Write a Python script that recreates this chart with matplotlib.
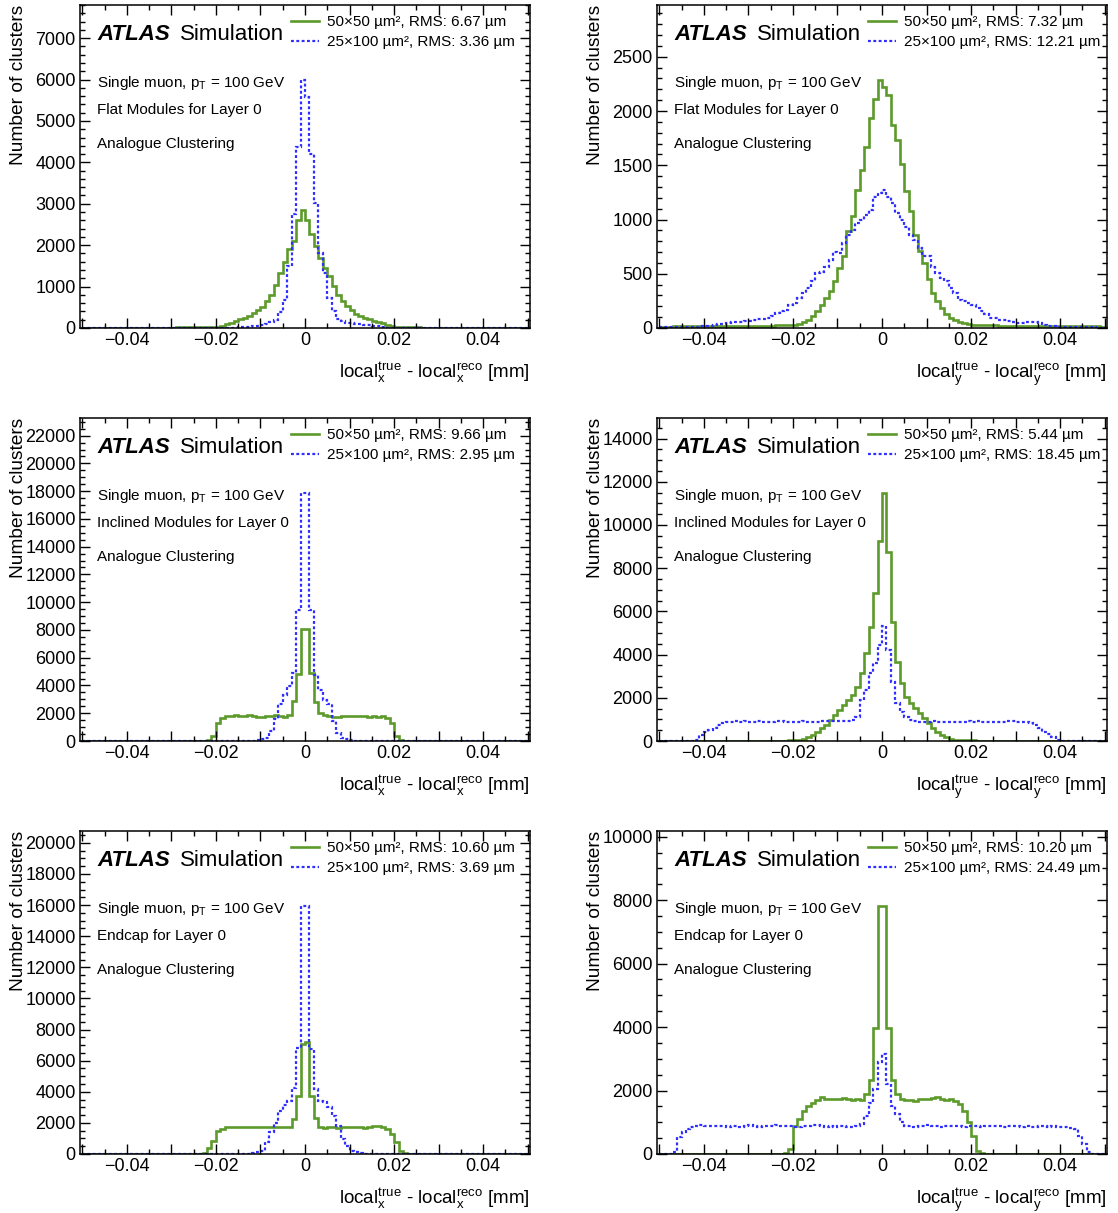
import numpy as np
import matplotlib
matplotlib.use("Agg")
import matplotlib.pyplot as plt
from matplotlib.lines import Line2D
from matplotlib.ticker import MultipleLocator, FuncFormatter

plt.rcParams['font.family'] = ['Liberation Sans', 'DejaVu Sans']
plt.rcParams['mathtext.fontset'] = 'custom'
plt.rcParams['mathtext.rm'] = 'Liberation Sans'
plt.rcParams['mathtext.it'] = 'Liberation Sans:italic'
plt.rcParams['mathtext.bf'] = 'Liberation Sans:bold'

# residual histograms, 100 bins of 1 um between -0.05 and 0.05 mm
bin_edges = np.linspace(-0.05, 0.05, 101)

flat_x_50x50 = [
    5, 5, 6, 6, 6, 7, 7, 7, 8, 8, 8, 9, 9, 9, 10, 10, 10, 11, 11, 12,
    12, 13, 13, 14, 14, 15, 15, 16, 17, 18, 20, 50, 90, 130, 170, 210, 250, 300, 370, 430,
    500, 640, 800, 1040, 1320, 1600, 1900, 2100, 2600, 2850, 2620, 2270, 1990, 1700, 1440, 1250, 1010, 800, 660, 520,
    430, 340, 290, 250, 210, 170, 140, 110, 80, 45, 20, 18, 16, 15, 14, 13, 12, 12, 11, 11,
    10, 10, 9, 9, 9, 8, 8, 8, 7, 7, 7, 6, 6, 6, 5, 5, 5, 5, 4, 4]
flat_x_25x100 = [
    0, 0, 0, 0, 0, 0, 0, 0, 0, 0, 0, 0, 0, 0, 0, 0, 0, 0, 0, 0,
    0, 0, 0, 0, 0, 0, 0, 0, 0, 0, 0, 0, 0, 3, 8, 15, 25, 35, 45, 60,
    80, 100, 140, 200, 380, 680, 1500, 2750, 4370, 6000, 5570, 4210, 3010, 1800, 1340, 720, 400, 220, 160, 130,
    110, 100, 90, 80, 70, 60, 40, 25, 10, 3, 0, 0, 0, 0, 0, 0, 0, 0, 0, 0,
    0, 0, 0, 0, 0, 0, 0, 0, 0, 0, 0, 0, 0, 0, 0, 0, 0, 0, 0, 0]

flat_y_50x50 = [
    13, 13, 13, 14, 14, 14, 15, 15, 15, 16, 16, 16, 17, 17, 18, 18, 18, 19, 19, 20,
    20, 20, 21, 22, 22, 23, 24, 25, 26, 28, 30, 40, 55, 75, 115, 155, 215, 275, 340, 430,
    550, 660, 890, 1030, 1270, 1460, 1670, 1940, 2110, 2290, 2220, 2150, 1870, 1730, 1510, 1260, 1080, 860, 710, 600,
    450, 320, 245, 185, 125, 90, 70, 55, 45, 37, 30, 28, 27, 26, 25, 24, 23, 22, 22, 21,
    21, 20, 20, 19, 19, 18, 18, 18, 17, 17, 16, 16, 16, 15, 15, 15, 14, 14, 14, 13]
flat_y_25x100 = [
    5, 5, 6, 6, 8, 8, 10, 10, 12, 15, 18, 22, 28, 38, 40, 46, 52, 52, 55, 61,
    67, 77, 83, 86, 92, 113, 138, 153, 170, 215, 230, 275, 320, 370, 430, 505, 520, 565, 630, 705,
    690, 780, 860, 905, 965, 1000, 1040, 1090, 1210, 1240, 1270, 1210, 1150, 1060, 1000, 935, 860, 815, 735, 660,
    660, 565, 505, 460, 430, 370, 320, 260, 245, 230, 215, 185, 155, 125, 92, 92, 77, 71, 61, 52,
    46, 46, 52, 52, 55, 46, 31, 21, 15, 12, 10, 10, 8, 8, 6, 6, 5, 5, 4, 4]

incl_x_50x50 = [
    12, 12, 12, 13, 13, 13, 14, 14, 14, 15, 15, 15, 16, 16, 16, 17, 17, 18, 18, 19,
    19, 20, 20, 21, 22, 23, 24, 25, 60, 350, 1300, 1650, 1780, 1800, 1850, 1830, 1820, 1850, 1780, 1750,
    1760, 1800, 1830, 1850, 1800, 1750, 1880, 2860, 4820, 8070, 8050, 4890, 2840, 2020, 1880, 1780, 1760, 1740, 1790, 1800,
    1770, 1780, 1800, 1780, 1760, 1770, 1760, 1780, 1650, 1300, 350, 60, 20, 20, 18, 17, 16, 16, 15, 15,
    14, 14, 14, 13, 13, 13, 12, 12, 12, 12, 11, 11, 11, 11, 10, 10, 10, 10, 10, 10]
incl_x_25x100 = [
    0, 0, 0, 0, 0, 0, 0, 0, 0, 0, 0, 0, 0, 0, 0, 0, 0, 0, 0, 0,
    0, 0, 0, 0, 0, 0, 0, 0, 0, 0, 0, 0, 0, 0, 0, 0, 0, 10, 30, 60,
    120, 240, 720, 1550, 2630, 3340, 3940, 4890, 9430, 17900, 17900, 9430, 4770, 3700, 2980, 2630, 1430, 600, 240, 120,
    60, 30, 10, 0, 0, 0, 0, 0, 0, 0, 0, 0, 0, 0, 0, 0, 0, 0, 0, 0,
    0, 0, 0, 0, 0, 0, 0, 0, 0, 0, 0, 0, 0, 0, 0, 0, 0, 0, 0, 0]

incl_y_50x50 = [
    8, 8, 8, 9, 9, 9, 9, 10, 10, 10, 10, 11, 11, 11, 12, 12, 12, 13, 13, 14,
    14, 15, 15, 16, 17, 18, 19, 20, 22, 25, 28, 31, 80, 170, 280, 430, 590, 740, 970, 1200,
    1430, 1670, 1900, 2130, 2520, 3130, 4060, 5260, 6870, 9260, 11500, 8770, 5530, 3670, 2670, 2050, 1740, 1510, 1280, 1050,
    820, 590, 430, 280, 170, 110, 62, 46, 35, 28, 24, 22, 20, 19, 18, 17, 16, 15, 15, 14,
    14, 13, 13, 12, 12, 12, 11, 11, 11, 10, 10, 10, 10, 9, 9, 9, 9, 8, 8, 8]
incl_y_25x100 = [
    0, 0, 0, 0, 0, 0, 0, 5, 46, 278, 432, 509, 587, 741, 849, 895, 900, 910, 890, 905,
    900, 895, 905, 900, 890, 900, 905, 910, 900, 895, 885, 900, 905, 890, 880, 900, 910, 920, 930, 940,
    910, 920, 930, 970, 1130, 1900, 2360, 3130, 3600, 4450, 5330, 4210, 2750, 1740, 1360, 1130, 970, 940, 900, 880,
    900, 920, 900, 880, 900, 890, 880, 900, 890, 910, 900, 920, 890, 900, 880, 900, 890, 880, 910, 920,
    900, 880, 860, 820, 740, 590, 430, 320, 200, 60, 5, 0, 0, 0, 0, 0, 0, 0, 0, 0]

endcap_x_50x50 = [
    10, 10, 10, 10, 11, 11, 11, 11, 12, 12, 12, 12, 13, 13, 13, 14, 14, 14, 15, 15,
    16, 16, 17, 18, 19, 20, 22, 45, 360, 860, 1500, 1610, 1710, 1720, 1730, 1740, 1730, 1750, 1760, 1740,
    1750, 1760, 1740, 1750, 1760, 1740, 1750, 2250, 3750, 7100, 7200, 3750, 2290, 1750, 1700, 1720, 1710, 1700, 1740, 1760,
    1760, 1740, 1720, 1700, 1740, 1780, 1810, 1720, 1600, 1290, 750, 210, 40, 20, 18, 17, 16, 15, 15, 14,
    14, 13, 13, 13, 12, 12, 12, 11, 11, 11, 11, 10, 10, 10, 10, 10, 9, 9, 9, 9]
endcap_x_25x100 = [
    0, 0, 0, 0, 0, 0, 0, 0, 0, 0, 0, 0, 0, 0, 0, 0, 0, 0, 0, 0,
    0, 0, 0, 0, 0, 0, 0, 0, 0, 0, 0, 0, 0, 0, 0, 0, 0, 0, 40, 100,
    210, 750, 1390, 1970, 2790, 3170, 3430, 4220, 6800, 15970, 15970, 6750, 4180, 3430, 3320, 3000, 2470, 1820, 970, 540,
    210, 100, 40, 0, 0, 0, 0, 0, 0, 0, 0, 0, 0, 0, 0, 0, 0, 0, 0, 0,
    0, 0, 0, 0, 0, 0, 0, 0, 0, 0, 0, 0, 0, 0, 0, 0, 0, 0, 0, 0]

endcap_y_50x50 = [
    5, 5, 5, 5, 5, 6, 6, 6, 6, 6, 7, 7, 7, 7, 8, 8, 8, 8, 9, 9,
    9, 10, 10, 10, 10, 10, 10, 10, 30, 150, 890, 1100, 1340, 1520, 1620, 1700, 1800, 1730, 1720, 1730,
    1720, 1750, 1740, 1690, 1720, 1700, 1890, 2330, 3980, 7810, 7830, 3980, 2330, 1880, 1720, 1700, 1710, 1680, 1730, 1720,
    1740, 1760, 1790, 1740, 1700, 1720, 1680, 1570, 1360, 1000, 580, 100, 20, 10, 10, 10, 10, 9, 9, 9,
    9, 8, 8, 8, 8, 7, 7, 7, 7, 6, 6, 6, 6, 6, 5, 5, 5, 5, 5, 5]
endcap_y_25x100 = [
    5, 5, 5, 50, 520, 680, 790, 840, 890, 900, 880, 890, 870, 880, 870, 860, 880, 870, 860, 880,
    900, 870, 850, 880, 890, 870, 900, 890, 880, 870, 840, 850, 870, 890, 900, 910, 880, 860, 870, 860,
    890, 880, 850, 860, 890, 940, 1200, 1620, 2040, 2910, 3150, 2200, 1520, 1260, 1000, 890, 870, 860, 880, 870,
    900, 880, 870, 860, 870, 880, 870, 880, 860, 870, 880, 870, 860, 870, 880, 890, 870, 860, 870, 880,
    870, 860, 870, 850, 860, 870, 880, 860, 870, 850, 860, 840, 820, 790, 580, 310, 50, 5, 5, 5]

rms_50x50 = ['6.67', '7.32', '9.66', '5.44', '10.60', '10.20']
rms_25x100 = ['3.36', '12.21', '2.95', '18.45', '3.69', '24.49']
geometries = ['Flat Modules for Layer 0', 'Inclined Modules for Layer 0', 'Endcap for Layer 0']
coords = ['x', 'y']

series_50x50 = [flat_x_50x50, flat_y_50x50, incl_x_50x50, incl_y_50x50, endcap_x_50x50, endcap_y_50x50]
series_25x100 = [flat_x_25x100, flat_y_25x100, incl_x_25x100, incl_y_25x100, endcap_x_25x100, endcap_y_25x100]
y_major = [1000, 500, 2000, 2000, 2000, 2000]
y_minor = [200, 100, 500, 500, 500, 500]

green = '#5c9a2c'
blue = '#2e2eff'

W, H = 1118, 1213
fig = plt.figure(figsize=(W / 100, H / 100), dpi=100)

col_left = [80, 657]
row_top = [5, 418, 831]
ax_w, ax_h = 450, 323


def xfmt(v, pos):
    if abs(v / 0.02 - round(v / 0.02)) > 1e-6:
        return ''
    if abs(v) < 1e-9:
        return '0'
    return f'{v:.2f}'.replace('-', '\u2212')


for i in range(6):
    r, c = divmod(i, 2)
    ax = fig.add_axes([col_left[c] / W, 1 - (row_top[r] + ax_h) / H, ax_w / W, ax_h / H])
    a = np.array(series_50x50[i], dtype=float)
    b = np.array(series_25x100[i], dtype=float)

    ax.stairs(a, bin_edges, color=green, lw=1.9, baseline=None)
    ax.stairs(b, bin_edges, color=blue, lw=1.6, ls=(0, (1.3, 1.1)), baseline=None)

    ax.set_xlim(-0.0505, 0.0505)
    ax.set_ylim(0, 1.3 * max(a.max(), b.max()))

    ax.xaxis.set_major_locator(MultipleLocator(0.01))
    ax.xaxis.set_minor_locator(MultipleLocator(0.005))
    ax.xaxis.set_major_formatter(FuncFormatter(xfmt))
    ax.yaxis.set_major_locator(MultipleLocator(y_major[i]))
    ax.yaxis.set_minor_locator(MultipleLocator(y_minor[i]))

    ax.tick_params(which='both', direction='in', top=True, right=True, width=1.0, labelsize=13)
    ax.tick_params(which='major', length=7.5, pad=3)
    ax.tick_params(which='minor', length=3.8)
    for sp in ax.spines.values():
        sp.set_linewidth(1.1)

    q = coords[c]
    ax.set_xlabel(rf'local$_{{\mathrm{{{q}}}}}^{{\mathrm{{true}}}}$ - local$_{{\mathrm{{{q}}}}}^{{\mathrm{{reco}}}}$ [mm]',
                  fontsize=13.5, loc='right')
    ax.xaxis.set_label_coords(1.0, -0.10)
    ax.set_ylabel('Number of clusters', fontsize=13.8, loc='top')
    ax.yaxis.set_label_coords(-0.118, 1.0)

    ax.text(0.038, 0.893, 'ATLAS', transform=ax.transAxes, fontsize=16,
            fontweight='bold', fontstyle='italic', va='baseline')
    ax.text(0.223, 0.893, 'Simulation', transform=ax.transAxes, fontsize=16, va='baseline')

    ax.text(0.038, 0.747, r'Single muon, p$_{\mathrm{T}}$ = 100 GeV', transform=ax.transAxes,
            fontsize=11, va='baseline')
    ax.text(0.038, 0.662, geometries[r], transform=ax.transAxes, fontsize=11, va='baseline')
    ax.text(0.038, 0.557, 'Analogue Clustering', transform=ax.transAxes, fontsize=11, va='baseline')

    handles = [Line2D([], [], color=green, lw=1.9),
               Line2D([], [], color=blue, lw=1.6, ls=(0, (1.3, 1.1)))]
    labels = [f'50\u00d750 \u00b5m\u00b2, RMS: {rms_50x50[i]} \u00b5m',
              f'25\u00d7100 \u00b5m\u00b2, RMS: {rms_25x100[i]} \u00b5m']
    ax.legend(handles, labels, loc='upper left', bbox_to_anchor=(0.468, 0.968),
              frameon=False, fontsize=11, handlelength=1.85, handletextpad=0.55,
              labelspacing=0.38, borderpad=0, borderaxespad=0)

fig.savefig('out.png', dpi=100)
